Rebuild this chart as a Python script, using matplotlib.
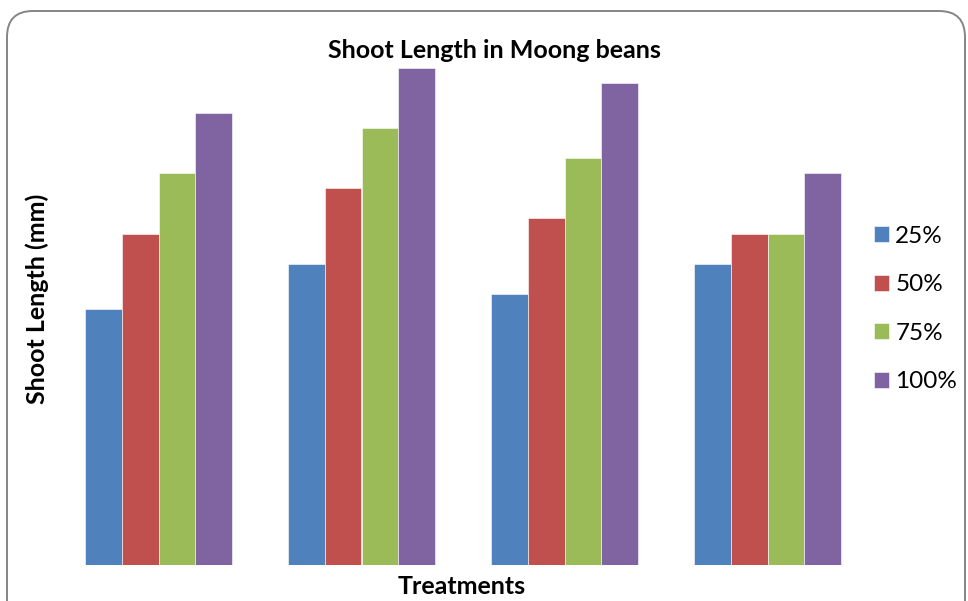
import numpy as np
import matplotlib
matplotlib.use('Agg')
import matplotlib.pyplot as plt
from matplotlib.patches import FancyBboxPatch

TREATMENTS = ['T1', 'T2', 'T3', 'T4']
SERIES = ['25%', '50%', '75%', '100%']
VALUES = {
    '25%': [34, 40, 36, 40],
    '50%': [44, 50, 46, 44],
    '75%': [52, 58, 54, 44],
    '100%': [60, 66, 64, 52],
}
COLORS = ['#4F81BD', '#C0504D', '#9BBB59', '#8064A2']

plt.rcParams['font.family'] = ['Lato', 'DejaVu Sans']

W, H = 968, 601
fig = plt.figure(figsize=(W / 100, H / 100), dpi=100)

# rounded chart border (bottom runs off the image)
border = FancyBboxPatch((7, -30), 958, H - 11 + 30,
                        boxstyle='round,pad=0,rounding_size=26',
                        transform=None, facecolor='none',
                        edgecolor='#858585', linewidth=1.4, zorder=-1)
fig.patches.append(border)


def px_axes(left, top, right, bottom):
    return fig.add_axes([left / W, 1 - bottom / H, (right - left) / W, (bottom - top) / H])


ax = px_axes(57, 62, 869, 565)
ax.set_facecolor('none')

x = np.arange(len(TREATMENTS))
bw = 0.182
for i, (name, col) in enumerate(zip(SERIES, COLORS)):
    ax.bar(x + (i - 1.5) * bw, VALUES[name], width=bw, color=col,
           edgecolor='white', linewidth=0.4, label=name)

ax.set_xlim(-0.5, len(TREATMENTS) - 0.5)
ax.set_ylim(0, 66.77)
ax.set_xticks([])
ax.set_yticks([])
for side in ax.spines:
    ax.spines[side].set_visible(False)

fig.text(494 / W, 1 - 50 / H, 'Shoot Length in Moong beans', ha='center', va='center',
         fontsize=18, fontweight='bold')
fig.text(462 / W, 1 - 587 / H, 'Treatments', ha='center', va='center',
         fontsize=18, fontweight='bold')
fig.text(37 / W, 1 - 299 / H, 'Shoot Length (mm)', ha='center', va='center',
         rotation=90, fontsize=18, fontweight='bold')

ax.legend(loc='center left', bbox_to_anchor=(862 / W, 1 - 309 / H),
          bbox_transform=fig.transFigure, frameon=False, fontsize=17.5,
          handlelength=0.62, handleheight=0.62, handletextpad=0.25,
          labelspacing=1.13, borderpad=0)

fig.savefig('out.png', dpi=100)
